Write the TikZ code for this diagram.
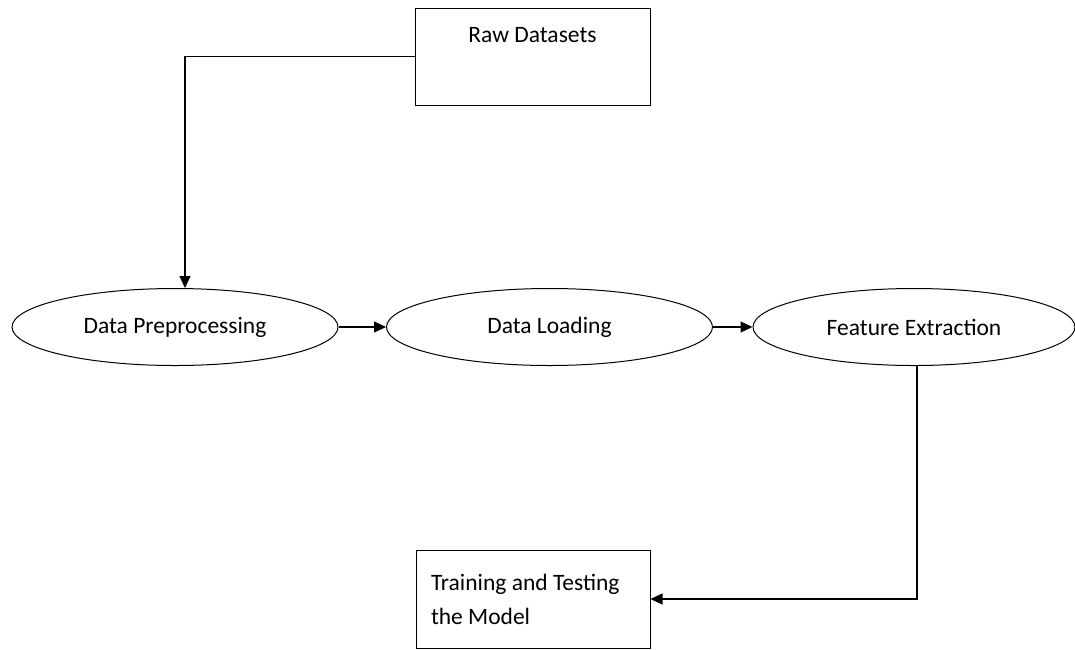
\documentclass[tikz,border=0pt]{standalone}
\usepackage{fontspec}
\setmainfont{Carlito}
\usetikzlibrary{shapes,arrows.meta,positioning}

\begin{document}
\begin{tikzpicture}[x=1pt,y=-1pt,
    every node/.style={font=\fontsize{23.5}{34}\selectfont},
    box/.style={draw,line width=1pt,rectangle,inner sep=0pt},
    proc/.style={ellipse,draw,line width=1pt,minimum width=326pt,minimum height=77pt,inner sep=0pt},
    link/.style={line width=1.2pt,-{Triangle[length=12pt,width=11pt]}}]
    % Frame
    \useasboundingbox (0,0) rectangle (1075,649);
    % Boxes
    \node[box,minimum width=235pt,minimum height=97pt,text height=17pt,text depth=46pt] (raw) at (532.5,56.5) {Raw Datasets};
    \node[box,text width=204pt,minimum height=98pt,inner xsep=15pt,align=flush left] (train) at (533,599) {Training and Testing\\the Model};
    % Processes
    \node[proc] (prep) at (175,327) {Data Preprocessing};
    \node[proc] (load) at (549.5,327) {Data Loading};
    \node[proc,minimum width=322pt] (feat) at (914,327) {Feature Extraction};
    % Flow
    \draw[link] (raw.west) -| ([xshift=10pt]prep.north);
    \draw[link] (prep) -- (load);
    \draw[link] (load) -- (feat);
    \draw[link] ([xshift=3pt]feat.south) |- (train.east);
\end{tikzpicture}
\end{document}
